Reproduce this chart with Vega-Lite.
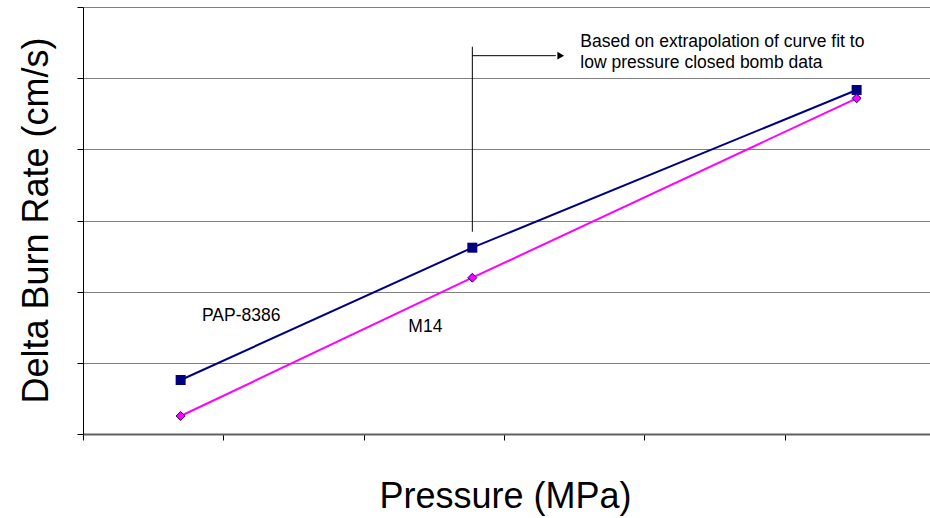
{
  "$schema": "https://vega.github.io/schema/vega-lite/v6.json",
  "width": 847,
  "height": 427,
  "autosize": "none",
  "padding": {"left": 83, "top": 7, "right": 0, "bottom": 84},
  "background": "white",
  "config": {
    "view": {"stroke": null},
    "font": "Liberation Sans"
  },
  "datasets": {
    "series": [
      {"series": "PAP-8386", "pressure": 0.696, "rate": 0.759},
      {"series": "PAP-8386", "pressure": 2.775, "rate": 2.618},
      {"series": "PAP-8386", "pressure": 5.514, "rate": 4.834},
      {"series": "M14", "pressure": 0.696, "rate": 0.253},
      {"series": "M14", "pressure": 2.775, "rate": 2.196},
      {"series": "M14", "pressure": 5.514, "rate": 4.717}
    ],
    "rules": [
      {"x": 2.775, "x2": 2.775, "y": 2.843, "y2": 5.442},
      {"x": 2.775, "x2": 3.37, "y": 5.316, "y2": 5.316}
    ],
    "arrow": [
      {"x": 3.405, "y": 5.316}
    ],
    "labels": [
      {"x": 3.545, "y": 5.433, "label": "Based on extrapolation of curve fit to"},
      {"x": 3.545, "y": 5.138, "label": "low pressure closed bomb data"},
      {"x": 0.848, "y": 1.592, "label": "PAP-8386"},
      {"x": 2.319, "y": 1.437, "label": "M14"}
    ]
  },
  "layer": [
    {
      "data": {"name": "series"},
      "mark": {"type": "line", "strokeWidth": 2},
      "encoding": {
        "x": {
          "field": "pressure", "type": "quantitative",
          "scale": {"domain": [0, 6.037], "nice": false, "zero": false},
          "axis": {
            "title": "Pressure (MPa)",
            "titleFontSize": 36, "titleFontWeight": "normal", "titleColor": "black",
            "titleFont": "Liberation Sans",
            "titleX": 422, "titleY": 62, "titleAlign": "center", "titleBaseline": "middle",
            "labels": false, "grid": false,
            "values": [0, 1, 2, 3, 4, 5],
            "tickColor": "black", "tickSize": 6, "tickWidth": 1,
            "domainColor": "#606060", "domainWidth": 2
          }
        },
        "y": {
          "field": "rate", "type": "quantitative",
          "scale": {"domain": [0, 6], "nice": false},
          "axis": {
            "title": "Delta Burn Rate (cm/s)",
            "titleFontSize": 36, "titleFontWeight": "normal", "titleColor": "black",
            "titleFont": "Liberation Sans",
            "titleAngle": -90, "titleX": -47, "titleY": 213, "titleAlign": "center", "titleBaseline": "middle",
            "labels": false, "grid": true, "gridColor": "#808080", "gridWidth": 1, "gridOpacity": 1,
            "values": [0, 1, 2, 3, 4, 5, 6],
            "tickColor": "black", "tickSize": 6, "tickWidth": 1,
            "domainColor": "black", "domainWidth": 1
          }
        },
        "color": {
          "field": "series", "type": "nominal",
          "scale": {"domain": ["PAP-8386", "M14"], "range": ["#000080", "#FF00FF"]},
          "legend": null
        }
      }
    },
    {
      "data": {"name": "series"},
      "transform": [{"filter": "datum.series === 'PAP-8386'"}],
      "mark": {"type": "point", "shape": "square", "filled": true, "size": 100, "color": "#000080", "opacity": 1},
      "encoding": {
        "x": {"field": "pressure", "type": "quantitative"},
        "y": {"field": "rate", "type": "quantitative"}
      }
    },
    {
      "data": {"name": "series"},
      "transform": [{"filter": "datum.series === 'M14'"}],
      "mark": {"type": "point", "shape": "diamond", "filled": true, "size": 80, "fill": "#FF00FF", "stroke": "#000080", "strokeWidth": 1, "opacity": 1},
      "encoding": {
        "x": {"field": "pressure", "type": "quantitative"},
        "y": {"field": "rate", "type": "quantitative"}
      }
    },
    {
      "data": {"name": "rules"},
      "mark": {"type": "rule", "color": "black", "strokeWidth": 1},
      "encoding": {
        "x": {"field": "x", "type": "quantitative"},
        "x2": {"field": "x2"},
        "y": {"field": "y", "type": "quantitative"},
        "y2": {"field": "y2"}
      }
    },
    {
      "data": {"name": "arrow"},
      "mark": {"type": "point", "shape": "triangle-right", "filled": true, "color": "black", "size": 60, "opacity": 1},
      "encoding": {
        "x": {"field": "x", "type": "quantitative"},
        "y": {"field": "y", "type": "quantitative"}
      }
    },
    {
      "data": {"name": "labels"},
      "mark": {"type": "text", "align": "left", "baseline": "alphabetic", "fontSize": 17.5, "font": "Liberation Sans", "color": "black"},
      "encoding": {
        "x": {"field": "x", "type": "quantitative"},
        "y": {"field": "y", "type": "quantitative"},
        "text": {"field": "label"}
      }
    }
  ]
}
